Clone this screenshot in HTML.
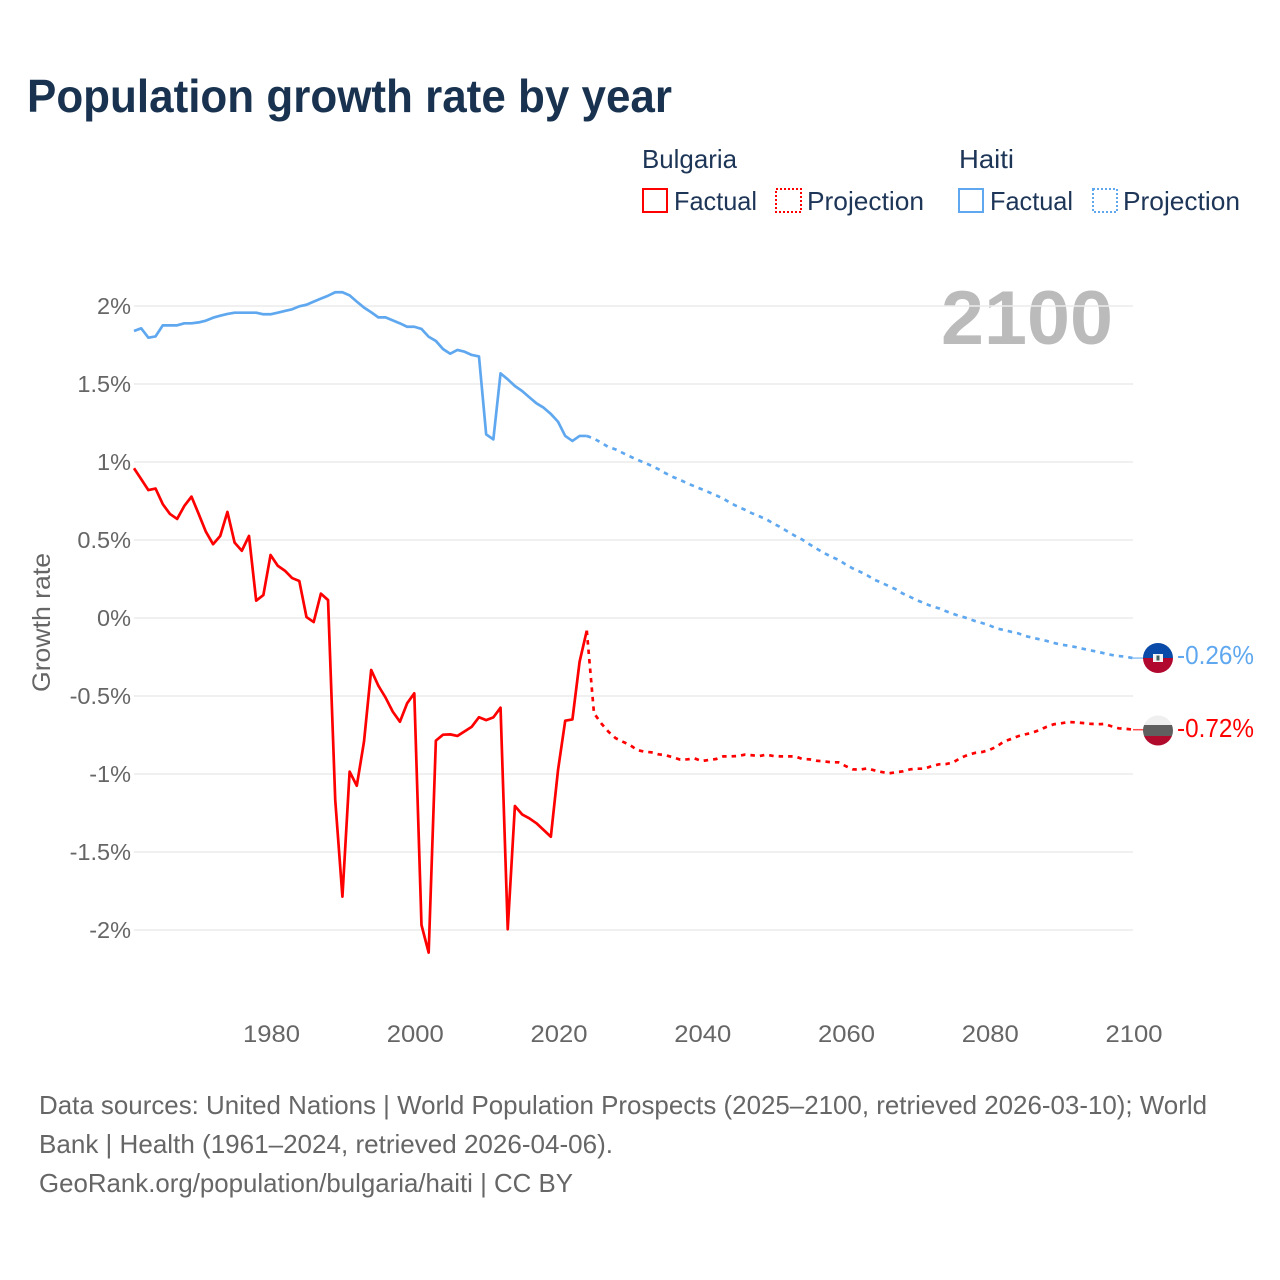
<!DOCTYPE html>
<html lang="en">
<head>
<meta charset="utf-8">
<title>Population growth rate by year</title>
<style>
html,body{margin:0;padding:0;background:#fff;}
svg{display:block;font-family:"Liberation Sans",sans-serif;}
</style>
</head>
<body>
<svg id="chart" xmlns="http://www.w3.org/2000/svg" width="1280" height="1280" viewBox="0 0 1280 1280">
  <rect x="0" y="0" width="1280" height="1280" fill="#ffffff"/>
  <text x="27" y="112" font-size="46" font-weight="700" fill="#18324f" textLength="645" lengthAdjust="spacingAndGlyphs">Population growth rate by year</text>

  <g font-size="26" fill="#1d3557">
    <text x="642" y="168" textLength="95" lengthAdjust="spacingAndGlyphs">Bulgaria</text>
    <text x="959" y="168" textLength="55" lengthAdjust="spacingAndGlyphs">Haiti</text>
    <rect x="643" y="189" width="24" height="23" fill="none" stroke="#ff0000" stroke-width="2"/>
    <text x="674" y="210" textLength="83" lengthAdjust="spacingAndGlyphs">Factual</text>
    <rect x="776" y="189" width="25" height="23" fill="none" stroke="#ff0000" stroke-width="2" stroke-dasharray="2 2"/>
    <text x="807" y="210" textLength="117" lengthAdjust="spacingAndGlyphs">Projection</text>
    <rect x="959" y="189" width="24" height="23" fill="none" stroke="#5fa8ef" stroke-width="2"/>
    <text x="990" y="210" textLength="83" lengthAdjust="spacingAndGlyphs">Factual</text>
    <rect x="1093" y="189" width="24" height="23" fill="none" stroke="#5fa8ef" stroke-width="2" stroke-dasharray="2 2"/>
    <text x="1123" y="210" textLength="117" lengthAdjust="spacingAndGlyphs">Projection</text>
  </g>

  <text x="941" y="344" font-size="76" font-weight="700" fill="#bbbbbb" textLength="172" lengthAdjust="spacingAndGlyphs">2100</text>
  <text transform="translate(50,622.5) rotate(-90)" text-anchor="middle" font-size="25" fill="#666666" textLength="139" lengthAdjust="spacingAndGlyphs">Growth rate</text>

  <g id="grid"></g>
  <g id="yticks"></g>
  <g id="xticks"></g>
  <g id="series"></g>

  <defs>
    <clipPath id="flag-clip-haiti"><circle cx="1158" cy="658" r="15"/></clipPath>
    <clipPath id="flag-clip-bulgaria"><circle cx="1158" cy="730.5" r="15"/></clipPath>
  </defs>
  <g clip-path="url(#flag-clip-haiti)">
    <rect x="1143" y="643" width="30" height="15" fill="#0a4aa8"/>
    <rect x="1143" y="658" width="30" height="15" fill="#b0082e"/>
    <rect x="1153" y="654" width="10" height="8" fill="#f4f4f4"/>
    <rect x="1156.5" y="655.5" width="3" height="5" fill="#3f5f60"/>
  </g>
  <g clip-path="url(#flag-clip-bulgaria)">
    <rect x="1143" y="715" width="30" height="10" fill="#efefef"/>
    <rect x="1143" y="725" width="30" height="11" fill="#5f5f5f"/>
    <rect x="1143" y="736" width="30" height="10" fill="#b00a2c"/>
  </g>
  <text id="end-label-haiti" x="1177" y="664" font-size="26" fill="#5fa8ef" textLength="77" lengthAdjust="spacingAndGlyphs"></text>
  <text id="end-label-bulgaria" x="1177" y="737" font-size="26" fill="#ff0000" textLength="77" lengthAdjust="spacingAndGlyphs"></text>

  <g font-size="26" fill="#666666">
    <text x="39" y="1114" textLength="1168" lengthAdjust="spacingAndGlyphs">Data sources: United Nations | World Population Prospects (2025–2100, retrieved 2026-03-10); World</text>
    <text x="39" y="1153" textLength="574" lengthAdjust="spacingAndGlyphs">Bank | Health (1961–2024, retrieved 2026-04-06).</text>
    <text x="39" y="1192" textLength="534" lengthAdjust="spacingAndGlyphs">GeoRank.org/population/bulgaria/haiti | CC BY</text>
  </g>
</svg>

<script>
const factualStartYear = 1961;
const projectionStartYear = 2025;
const yTickValues = [2, 1.5, 1, 0.5, 0, -0.5, -1, -1.5, -2];
const yTickLabels = ["2%", "1.5%", "1%", "0.5%", "0%", "-0.5%", "-1%", "-1.5%", "-2%"];
const xTickYears = [1980, 2000, 2020, 2040, 2060, 2080, 2100];
const xTickLabels = ["1980", "2000", "2020", "2040", "2060", "2080", "2100"];

const bulgariaFactual = [
  0.96,0.89,0.82,0.83,0.73,0.667,0.635,0.718,0.778,0.667,
  0.553,0.473,0.526,0.68,0.483,0.431,0.526,0.111,0.147,0.404,
  0.335,0.303,0.256,0.237,0.006,-0.026,0.156,0.115,-1.167,-1.786,
  -0.985,-1.075,-0.793,-0.333,-0.434,-0.51,-0.6,-0.665,-0.547,-0.483,
  -1.968,-2.145,-0.786,-0.748,-0.746,-0.756,-0.727,-0.697,-0.636,-0.655,
  -0.637,-0.575,-1.995,-1.205,-1.259,-1.284,-1.316,-1.359,-1.402,-0.974,
  -0.658,-0.65,-0.28,-0.081
];
const bulgariaProjection = [
  -0.61,-0.675,-0.728,-0.77,-0.793,-0.814,-0.846,-0.857,-0.861,-0.874,
  -0.88,-0.893,-0.908,-0.906,-0.9,-0.917,-0.91,-0.904,-0.887,-0.887,
  -0.885,-0.876,-0.88,-0.885,-0.876,-0.885,-0.887,-0.887,-0.887,-0.904,
  -0.906,-0.915,-0.919,-0.925,-0.925,-0.949,-0.97,-0.972,-0.964,-0.976,
  -0.987,-0.996,-0.989,-0.983,-0.97,-0.966,-0.966,-0.949,-0.938,-0.936,
  -0.925,-0.897,-0.878,-0.865,-0.859,-0.846,-0.825,-0.793,-0.776,-0.758,
  -0.746,-0.735,-0.718,-0.697,-0.681,-0.675,-0.667,-0.669,-0.673,-0.678,
  -0.681,-0.679,-0.694,-0.707,-0.71,-0.716
];
const haitiFactual = [
  1.84,1.857,1.797,1.805,1.876,1.876,1.876,1.889,1.889,1.895,
  1.906,1.925,1.938,1.949,1.957,1.957,1.957,1.957,1.947,1.947,
  1.957,1.968,1.979,1.998,2.008,2.028,2.047,2.066,2.088,2.088,
  2.068,2.028,1.99,1.96,1.927,1.927,1.908,1.889,1.867,1.867,
  1.853,1.803,1.776,1.724,1.694,1.718,1.707,1.686,1.677,1.177,
  1.145,1.568,1.53,1.487,1.455,1.415,1.376,1.348,1.308,1.258,
  1.167,1.135,1.167,1.167
];
const haitiProjection = [
  1.15,1.124,1.096,1.081,1.058,1.036,1.015,0.996,0.976,0.953,
  0.927,0.904,0.885,0.863,0.844,0.825,0.806,0.786,0.765,0.737,
  0.714,0.694,0.671,0.652,0.632,0.605,0.581,0.553,0.526,0.502,
  0.472,0.444,0.417,0.393,0.374,0.344,0.318,0.297,0.274,0.246,
  0.226,0.205,0.184,0.156,0.135,0.113,0.094,0.075,0.062,0.043,
  0.026,0.011,-0.002,-0.019,-0.032,-0.047,-0.066,-0.077,-0.088,-0.098,
  -0.115,-0.126,-0.137,-0.147,-0.16,-0.171,-0.177,-0.186,-0.197,-0.207,
  -0.216,-0.226,-0.237,-0.244,-0.248,-0.257
];
const haitiEndLabel = "-0.26%";
const bulgariaEndLabel = "-0.72%";

const SVG_NS = "http://www.w3.org/2000/svg";
const xLeft = 134, xRight = 1133, yearMin = 1961, yearMax = 2100;
const yZero = 618, pxPerPercent = 156;
function xScale(year) { return xLeft + (year - yearMin) * (xRight - xLeft) / (yearMax - yearMin); }
function yScale(value) { return yZero - value * pxPerPercent; }

const gridGroup = document.getElementById("grid");
const yTickGroup = document.getElementById("yticks");
const xTickGroup = document.getElementById("xticks");
const seriesGroup = document.getElementById("series");

yTickValues.forEach(function (v, i) {
  const line = document.createElementNS(SVG_NS, "line");
  
  
  line.setAttribute("x1", xLeft);
  line.setAttribute("x2", xRight);
  line.setAttribute("y1", yScale(v));
  line.setAttribute("y2", yScale(v));
  line.setAttribute("stroke", "#ececec");
  line.setAttribute("stroke-width", "1.5");
  gridGroup.appendChild(line);

  const label = document.createElementNS(SVG_NS, "text");
  
  
  label.setAttribute("x", 131);
  label.setAttribute("y", yScale(v) + 8);
  label.setAttribute("text-anchor", "end");
  label.setAttribute("font-size", "23.5");
  label.setAttribute("fill", "#666666");
  label.textContent = yTickLabels[i];
  yTickGroup.appendChild(label);
});

xTickYears.forEach(function (year, i) {
  const label = document.createElementNS(SVG_NS, "text");
  
  
  label.setAttribute("x", xScale(year) + 1);
  label.setAttribute("y", 1042);
  label.setAttribute("text-anchor", "middle");
  label.setAttribute("font-size", "24");
  label.setAttribute("fill", "#666666");
  label.setAttribute("textLength", "57");
  label.setAttribute("lengthAdjust", "spacingAndGlyphs");
  label.textContent = xTickLabels[i];
  xTickGroup.appendChild(label);
});

function linePoints(values, startYear) {
  return values.map(function (v, i) {
    return xScale(startYear + i).toFixed(2) + "," + yScale(v).toFixed(2);
  }).join(" ");
}

function drawSeries(name, color, factual, projection) {
  const factualLine = document.createElementNS(SVG_NS, "polyline");
  
  
  factualLine.setAttribute("points", linePoints(factual, factualStartYear));
  factualLine.setAttribute("fill", "none");
  factualLine.setAttribute("stroke", color);
  factualLine.setAttribute("stroke-width", "2.7");
  factualLine.setAttribute("stroke-linejoin", "round");
  seriesGroup.appendChild(factualLine);

  const joined = [factual[factual.length - 1]].concat(projection);
  const projectionLine = document.createElementNS(SVG_NS, "polyline");
  
  
  projectionLine.setAttribute("points", linePoints(joined, projectionStartYear - 1));
  projectionLine.setAttribute("fill", "none");
  projectionLine.setAttribute("stroke", color);
  projectionLine.setAttribute("stroke-width", "2.7");
  projectionLine.setAttribute("stroke-dasharray", "4.5 5");
  seriesGroup.appendChild(projectionLine);

  const lastValue = projection[projection.length - 1];
  const connector = document.createElementNS(SVG_NS, "line");
  
  
  connector.setAttribute("x1", xScale(yearMax));
  connector.setAttribute("x2", xScale(yearMax) + 12);
  connector.setAttribute("y1", yScale(lastValue));
  connector.setAttribute("y2", yScale(lastValue));
  connector.setAttribute("stroke", color);
  connector.setAttribute("stroke-width", "1.5");
  connector.setAttribute("opacity", "0.7");
  seriesGroup.appendChild(connector);
}

drawSeries("haiti", "#5fa8ef", haitiFactual, haitiProjection);
drawSeries("bulgaria", "#ff0000", bulgariaFactual, bulgariaProjection);

document.getElementById("end-label-haiti").textContent = haitiEndLabel;
document.getElementById("end-label-bulgaria").textContent = bulgariaEndLabel;
</script>
</body>
</html>
